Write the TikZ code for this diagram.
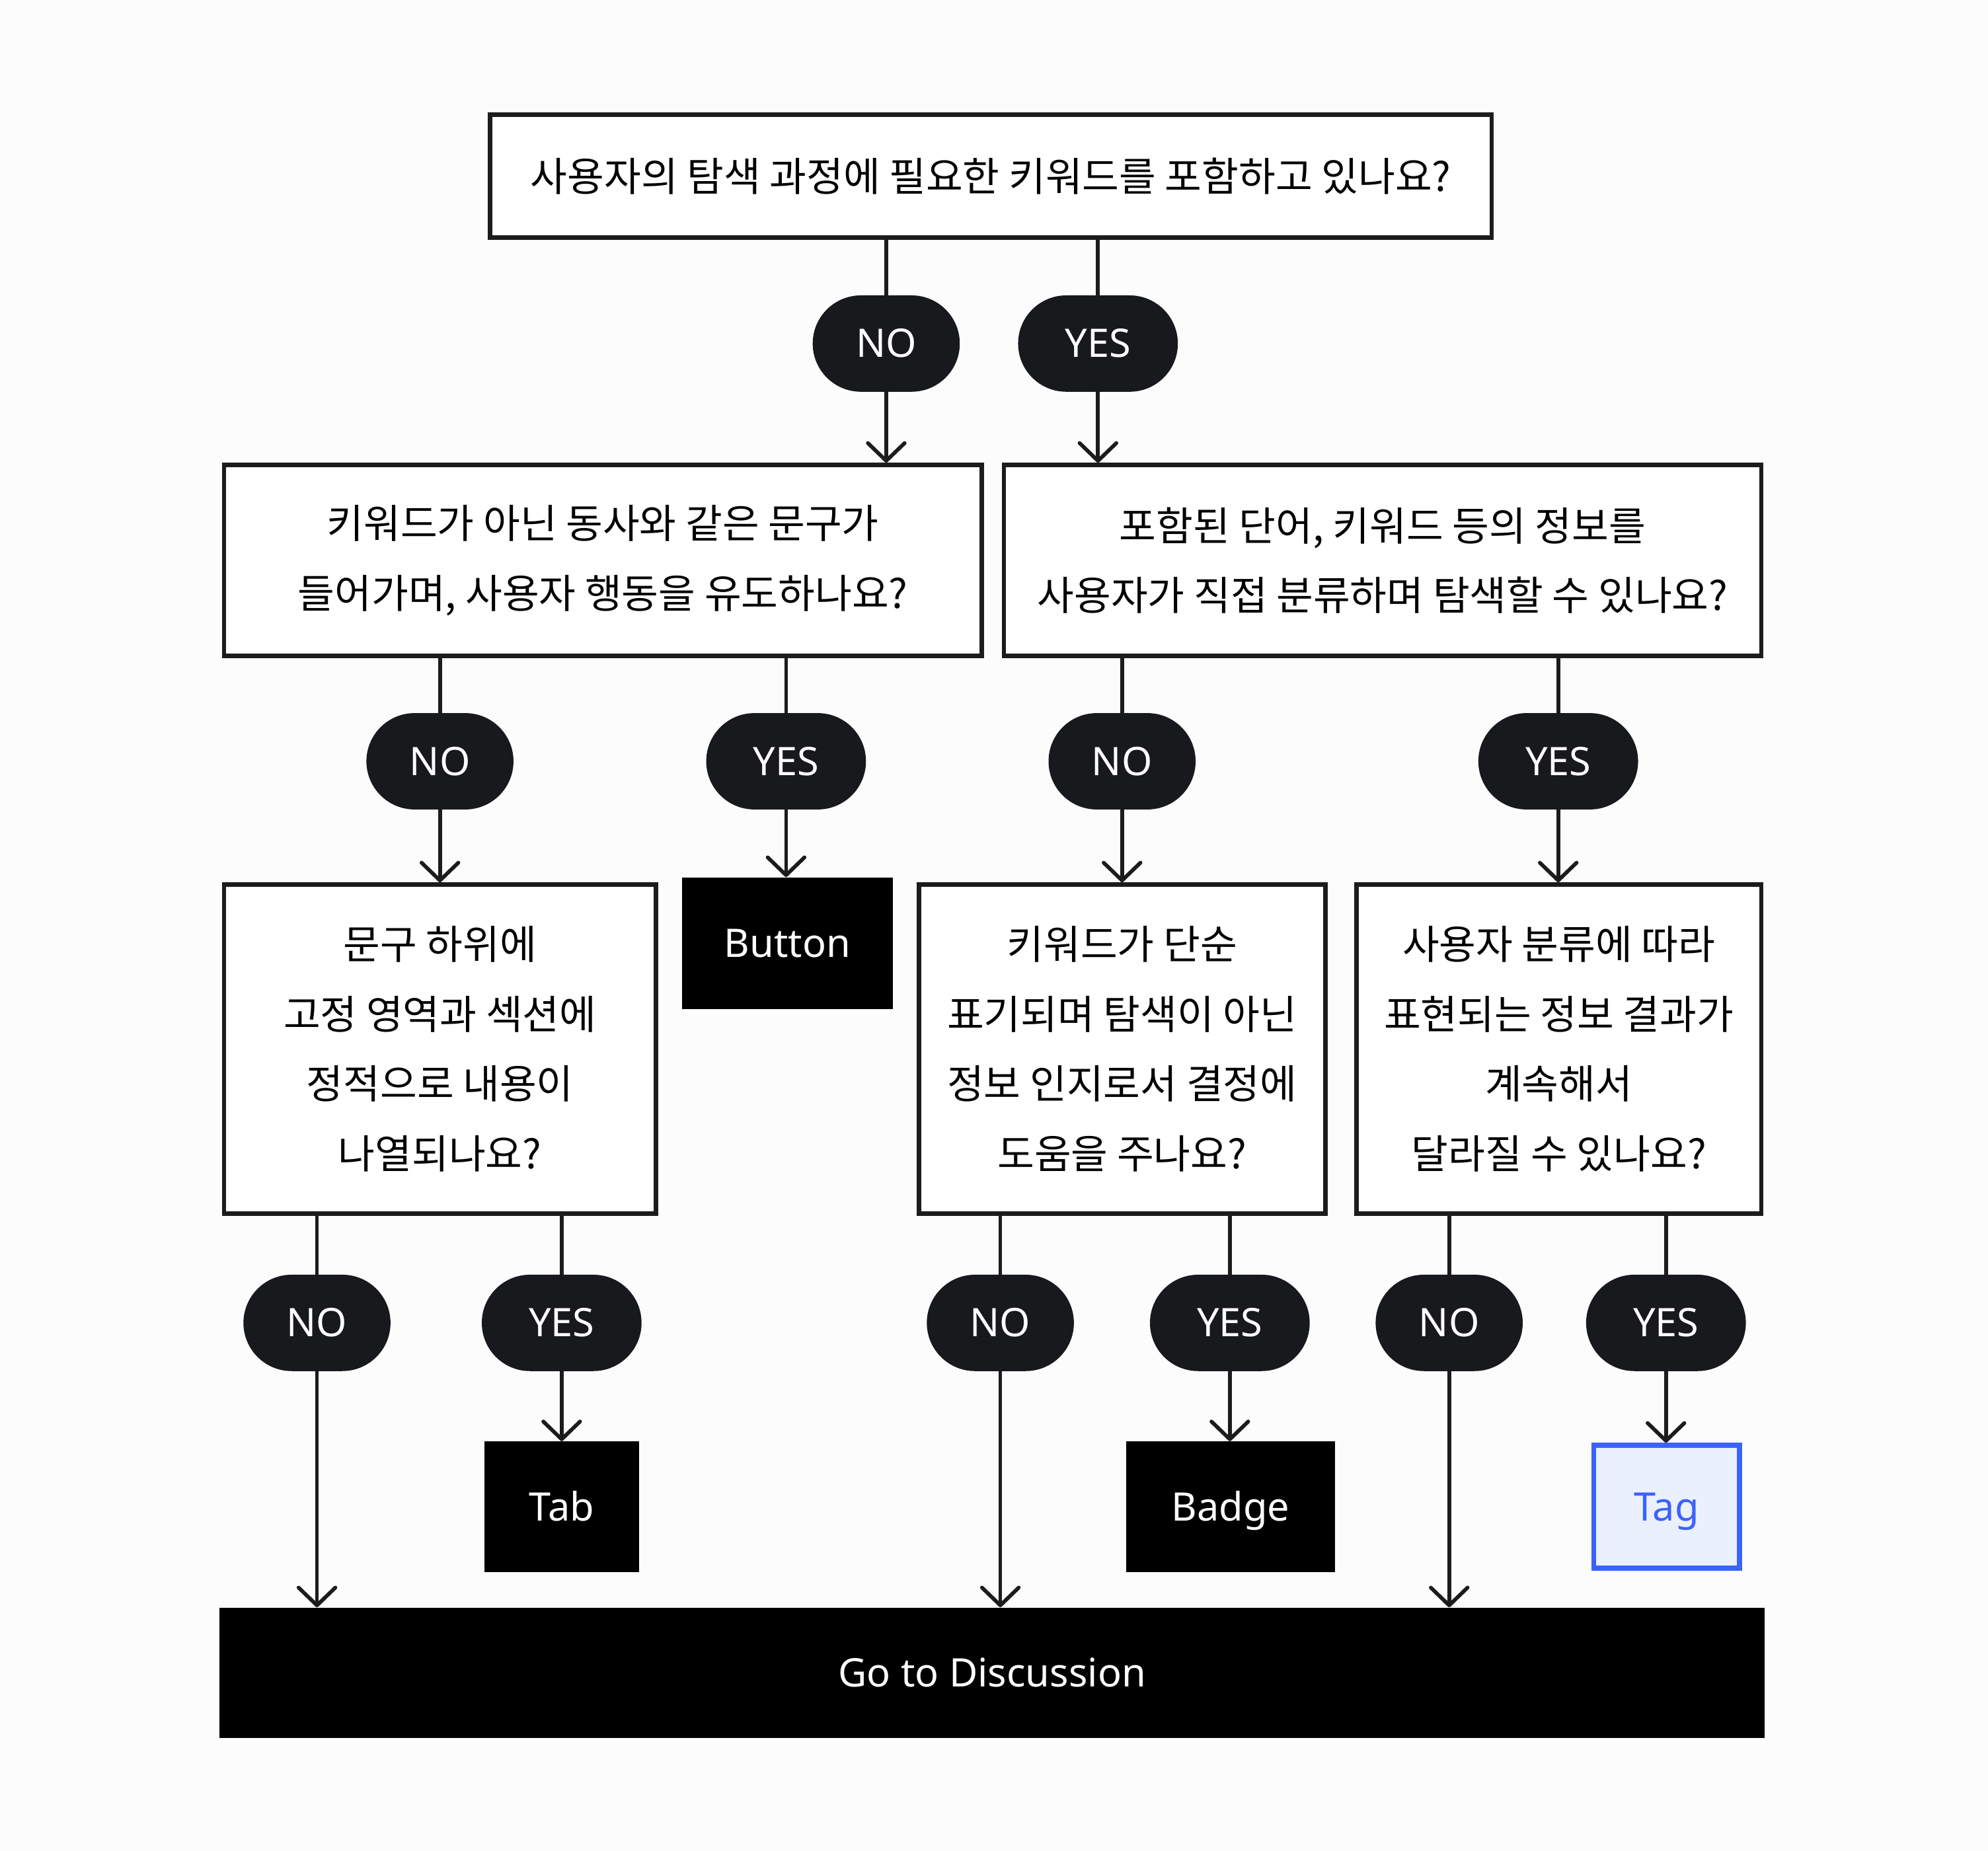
\documentclass[tikz,border=0pt]{standalone}
\usepackage{fontspec}
\setmainfont{Noto Sans}
\newfontfamily\krfont{Noto Sans CJK KR}
\usetikzlibrary{arrows.meta,shapes.misc}
\definecolor{bgc}{HTML}{FCFCFC}
\definecolor{linec}{HTML}{1C1C1E}
\definecolor{pillc}{HTML}{18191C}
\definecolor{tagc}{HTML}{3B63FB}
\definecolor{tagbg}{HTML}{EBF0FF}
\tikzset{
  qbox/.style={draw=linec,line width=3.5pt,fill=white,align=center,inner sep=0pt,font=\krfont\fontsize{31.6}{55}\selectfont},
  pill/.style={rounded rectangle,fill=pillc,text=white,minimum height=76pt,inner sep=0pt,text height=22pt,text depth=0pt,font=\fontsize{31}{36}\selectfont},
  endbox/.style={fill=black,text=white,inner sep=0pt,text height=22pt,text depth=0pt,font=\fontsize{31}{36}\selectfont},
  tagbox/.style={draw=tagc,line width=4pt,fill=tagbg,text=tagc,inner sep=0pt,text height=22pt,text depth=0pt,font=\fontsize{31}{36}\selectfont},
  ln/.style={draw=linec,line width=3pt},
  ar/.style={ln,-{Straight Barb[length=14pt,width=29pt,round]}}
}
\begin{document}
\begin{tikzpicture}[x=1pt,y=-1pt]
\fill[bgc] (0,0) rectangle (1568,1460);
\useasboundingbox (0,0) rectangle (1568,1460);

% questions
\node[qbox,minimum width=790pt,minimum height=97pt] (q1) at (781.5,139) {사용자의 탐색 과정에 필요한 키워드를 포함하고 있나요?};
\node[qbox,minimum width=597.5pt,minimum height=150.5pt] (q2) at (475.5,442) {키워드가 아닌 동사와 같은 문구가\\들어가며, 사용자 행동을 유도하나요?};
\node[qbox,minimum width=597.5pt,minimum height=150.5pt] (q3) at (1090.5,442) {포함된 단어, 키워드 등의 정보를\\사용자가 직접 분류하며 탐색할 수 있나요?};
\node[qbox,minimum width=340.5pt,minimum height=259.5pt] (q4) at (347,827.5) {문구 하위에\\고정 영역과 섹션에\\정적으로 내용이\\나열되나요?};
\node[qbox,minimum width=320.5pt,minimum height=259.5pt] (q5) at (885,827.5) {키워드가 단순\\표기되며 탐색이 아닌\\정보 인지로서 결정에\\도움을 주나요?};
\node[qbox,minimum width=319.5pt,minimum height=259.5pt] (q6) at (1229.5,827.5) {사용자 분류에 따라\\표현되는 정보 결과가\\계속해서\\달라질 수 있나요?};

% results
\node[endbox,minimum width=166pt,minimum height=104pt] (btn) at (621,744) {Button};
\node[endbox,minimum width=122pt,minimum height=103pt] (tab) at (443,1188.5) {Tab};
\node[endbox,minimum width=165pt,minimum height=103pt] (badge) at (970.5,1188.5) {Badge};
\node[tagbox,minimum width=115pt,minimum height=97pt] (tag) at (1314.5,1188.5) {Tag};
\node[endbox,minimum width=1219pt,minimum height=103pt] (done) at (782.5,1319.5) {Go to Discussion};

% answers
\foreach \nm/\x/\y/\w/\t in {p1n/699/271/116/NO, p1y/866/271/126/YES,
  p2n/347/600.5/116/NO, p2y/620/600.5/126/YES, p3n/885/600.5/116/NO, p3y/1229/600.5/126/YES,
  p4n/250/1043.5/116/NO, p4y/443/1043.5/126/YES, p5n/789/1043.5/116/NO, p5y/970/1043.5/126/YES,
  p6n/1143/1043.5/116/NO, p6y/1314/1043.5/126/YES}
  \node[pill,minimum width=\w pt] (\nm) at (\x,\y) {\t};

% connectors
\foreach \a/\p/\b in {q1/p1n/q2, q1/p1y/q3, q2/p2n/q4, q2/p2y/btn, q3/p3n/q5, q3/p3y/q6,
  q4/p4n/done, q4/p4y/tab, q5/p5n/done, q5/p5y/badge, q6/p6n/done, q6/p6y/tag}{
  \draw[ln] (\p |- \a.south) -- (\p.north);
  \draw[ar] (\p.south) -- (\p |- \b.north);
}
\end{tikzpicture}
\end{document}
